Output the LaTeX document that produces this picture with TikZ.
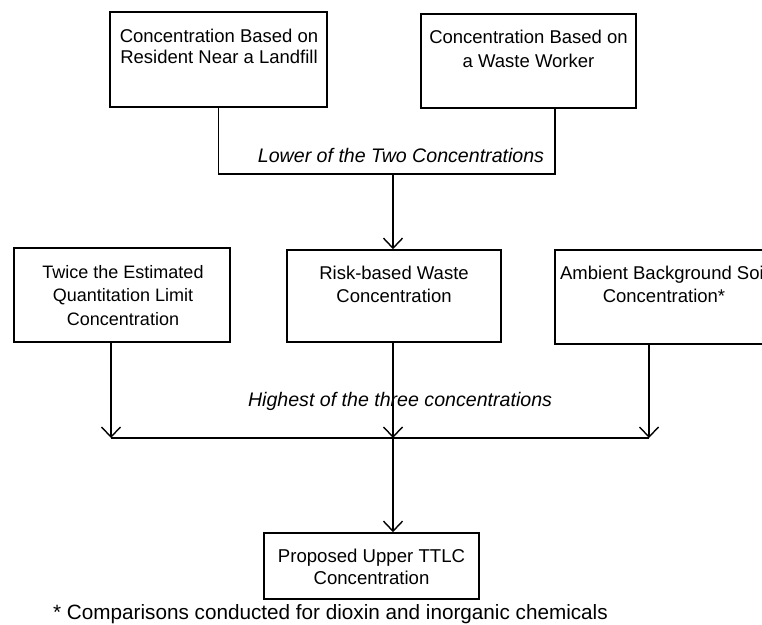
\documentclass[tikz,border=0pt]{standalone}
\usepackage{fontspec}
\setmainfont{Liberation Sans}
\usetikzlibrary{arrows.meta}

\tikzset{
  box/.style={draw, line width=1.6pt, rectangle, inner sep=0pt},
  txt/.style={inner sep=0pt, align=center, anchor=north},
  conn/.style={line width=1.4pt},
  arr/.style={conn, -{Straight Barb[length=10pt, width=19pt, line width=1.4pt]}},
  note/.style={inner sep=0pt, font=\fontsize{19.6}{22}\selectfont\itshape}
}

\begin{document}
\begin{tikzpicture}[x=1pt, y=1pt]
\clip (0,0) rectangle (762,-624);
\fill[white] (0,0) rectangle (762,-624);

% top row
\node[box, minimum width=217pt, minimum height=95pt] (tl) at (218.5,-59.5) {};
\node[txt, font=\fontsize{18.5}{21.5}\selectfont] (tltext) at (219,-28.7)
  {Concentration Based on\\Resident Near a Landfill};
\node[box, minimum width=215pt, minimum height=94pt] (tr) at (528.5,-61) {};
\node[txt, font=\fontsize{18.5}{24}\selectfont] (trtext) at (528.5,-29.7)
  {Concentration Based on\\a Waste Worker};

% middle row
\node[box, minimum width=216pt, minimum height=94pt] (ml) at (122,-295) {};
\node[txt, font=\fontsize{18}{23.5}\selectfont] (mltext) at (123,-265)
  {Twice the Estimated\\Quantitation Limit\\Concentration};
\node[box, minimum width=214pt, minimum height=92pt] (mm) at (394,-296) {};
\node[txt, font=\fontsize{18.5}{23.5}\selectfont] (mmtext) at (394,-265.5)
  {Risk-based Waste\\Concentration};
\node[box, minimum width=218pt, minimum height=94pt] (mr) at (664,-297) {};
\node[txt, font=\fontsize{18.5}{23}\selectfont] (mrtext) at (664,-266)
  {Ambient Background Soil\\Concentration*};

% result
\node[box, minimum width=215pt, minimum height=66pt] (bt) at (371.5,-566) {};
\node[txt, font=\fontsize{18.6}{22}\selectfont] (bttext) at (371.5,-548.6)
  {Proposed Upper TTLC\\Concentration};

% junction points
\coordinate (lowR) at (555,-174);
\coordinate (lowM) at (393,-174);
\coordinate (hiL) at (111,-438);
\coordinate (hiM) at (393,-438);
\coordinate (hiR) at (649,-438);

% lower of the two
\draw[conn] (tl.south) |- (lowR) -- (lowR |- tr.south);
\draw[arr] (lowM) -- (lowM |- mm.north);
\node[note, anchor=base] (lowerlbl) at (401,-162) {Lower of the Two Concentrations};

% highest of the three
\draw[arr] (hiL |- ml.south) -- (hiL);
\draw[arr] (hiM |- mm.south) -- (hiM);
\draw[arr] (hiR |- mr.south) -- (hiR);
\draw[conn] (hiL) -- (hiR);
\node[note, anchor=base] (higherlbl) at (400,-406) {Highest of the three concentrations};
\draw[arr] (hiM) -- (hiM |- bt.north);

% footnote
\node[inner sep=0pt, anchor=base west, font=\fontsize{20.7}{24}\selectfont] (foot) at (53,-619)
  {* Comparisons conducted for dioxin and inorganic chemicals};
\end{tikzpicture}
\end{document}
